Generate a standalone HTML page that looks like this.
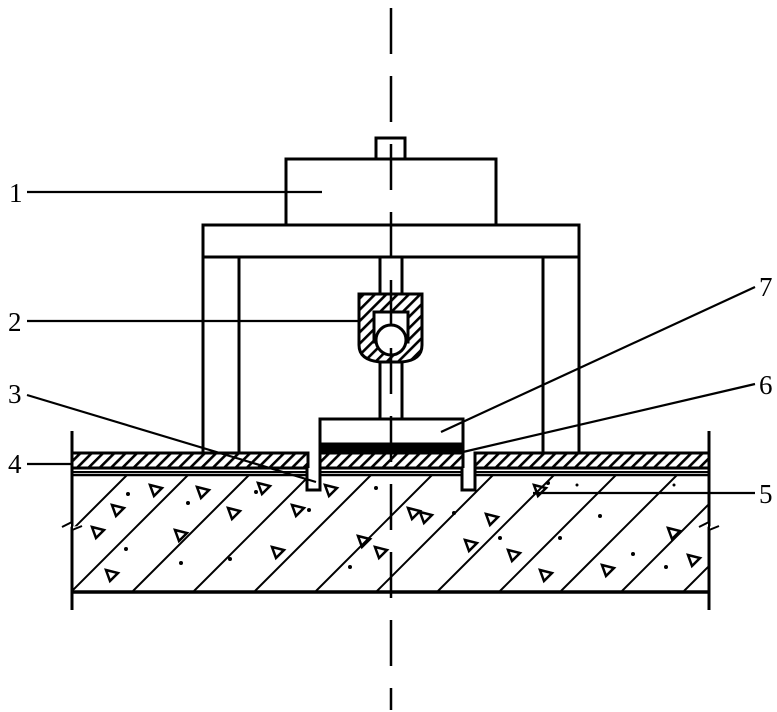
<!DOCTYPE html>
<html><head><meta charset="utf-8"><style>
html,body{margin:0;padding:0;background:#fff;}
svg{display:block}
text{font-family:"Liberation Serif",serif;font-size:27px;fill:#000}
</style></head><body>
<svg width="777" height="712" viewBox="0 0 777 712" xmlns="http://www.w3.org/2000/svg">
<defs>
<pattern id="h" patternUnits="userSpaceOnUse" width="8" height="8" patternTransform="rotate(45)">
<rect width="8" height="8" fill="#fff"/><rect x="0" y="0" width="2.6" height="8" fill="#000"/>
</pattern>
<clipPath id="cc"><rect x="72" y="475" width="637" height="116"/></clipPath>
</defs>
<g stroke="#000" fill="none" stroke-width="3">
<rect x="376" y="138" width="29" height="21" fill="#fff"/>
<rect x="286" y="159" width="210" height="66" fill="#fff"/>
<rect x="203" y="225" width="376" height="32" fill="#fff"/>
<line x1="203" y1="257" x2="203" y2="453"/><line x1="239" y1="257" x2="239" y2="453"/>
<line x1="543" y1="257" x2="543" y2="453"/><line x1="579" y1="257" x2="579" y2="453"/>
<line x1="380" y1="257" x2="380" y2="294"/><line x1="402" y1="257" x2="402" y2="294"/>
<line x1="380" y1="358" x2="380" y2="419"/><line x1="402" y1="358" x2="402" y2="419"/>
<path d="M359,294 H422 V345 Q422,360 402,362 H380 Q359,360 359,345 Z" fill="url(#h)"/>
<rect x="374" y="312" width="34" height="30" fill="#fff"/>
<circle cx="391" cy="340" r="15" fill="#fff"/>
<rect x="320" y="419" width="143" height="25" fill="#fff"/>
<rect x="320" y="444" width="143" height="9" fill="#000"/>
<rect x="72" y="453" width="236" height="15" fill="url(#h)"/>
<rect x="320" y="453" width="143" height="15" fill="url(#h)"/>
<rect x="475" y="453" width="234" height="15" fill="url(#h)"/>
<line x1="72" y1="472" x2="709" y2="472" stroke-width="2"/>
<g clip-path="url(#cc)" stroke-width="2">
<line x1="11" y1="591" x2="127" y2="475"/><line x1="72" y1="591" x2="188" y2="475"/>
<line x1="133" y1="591" x2="249" y2="475"/><line x1="194" y1="591" x2="310" y2="475"/>
<line x1="255" y1="591" x2="371" y2="475"/><line x1="316" y1="591" x2="432" y2="475"/>
<line x1="377" y1="591" x2="493" y2="475"/><line x1="438" y1="591" x2="554" y2="475"/>
<line x1="500" y1="591" x2="616" y2="475"/><line x1="561" y1="591" x2="677" y2="475"/>
<line x1="622" y1="591" x2="738" y2="475"/><line x1="684" y1="591" x2="800" y2="475"/>
<line x1="-50" y1="591" x2="66" y2="475"/>
</g>
<line x1="72" y1="475" x2="709" y2="475" stroke-width="2.5"/>
<line x1="72" y1="592" x2="709" y2="592" stroke-width="3.5"/>
<path d="M307,468 V490 H320 V468" fill="#fff"/>
<path d="M462,468 V490 H475 V468" fill="#fff"/>
<line x1="72" y1="431" x2="72" y2="610"/><line x1="709" y1="431" x2="709" y2="610"/>
<path d="M62,527 L72,522 L72,530 L82,526" stroke-width="2" fill="#fff"/>
<path d="M699,527 L709,522 L709,530 L719,526" stroke-width="2" fill="#fff"/>
</g>
<g stroke="#000" stroke-width="2.5" fill="none">
<path d="M150,485 l12,3 -8,8z"/><path d="M197,487 l12,3 -8,8z"/><path d="M258,483 l12,3 -8,8z"/>
<path d="M112,505 l12,3 -8,8z"/><path d="M228,508 l12,3 -8,8z"/><path d="M292,505 l12,3 -8,8z"/>
<path d="M92,527 l12,3 -8,8z"/><path d="M175,530 l12,3 -8,8z"/><path d="M358,536 l12,3 -8,8z"/>
<path d="M106,570 l12,3 -8,8z"/><path d="M272,547 l12,3 -8,8z"/><path d="M325,485 l12,3 -8,8z"/>
<path d="M420,512 l12,3 -8,8z"/><path d="M486,514 l12,3 -8,8z"/><path d="M534,485 l12,3 -8,8z"/>
<path d="M465,540 l12,3 -8,8z"/><path d="M508,550 l12,3 -8,8z"/><path d="M540,570 l12,3 -8,8z"/>
<path d="M602,565 l12,3 -8,8z"/><path d="M668,528 l12,3 -8,8z"/><path d="M688,555 l12,3 -8,8z"/>
<path d="M408,508 l12,3 -8,8z"/><path d="M375,547 l12,3 -8,8z"/>
</g>
<g fill="#000">
<circle cx="128" cy="494" r="2"/><circle cx="188" cy="503" r="2"/><circle cx="256" cy="492" r="2"/>
<circle cx="309" cy="510" r="2"/><circle cx="126" cy="549" r="2"/><circle cx="181" cy="563" r="2"/>
<circle cx="230" cy="559" r="2"/><circle cx="350" cy="567" r="2"/><circle cx="376" cy="488" r="2"/>
<circle cx="454" cy="513" r="2"/><circle cx="500" cy="538" r="2"/><circle cx="548" cy="483" r="2"/>
<circle cx="560" cy="538" r="2"/><circle cx="600" cy="516" r="2"/><circle cx="633" cy="554" r="2"/>
<circle cx="666" cy="567" r="2"/><circle cx="577" cy="485" r="1.5"/><circle cx="674" cy="485" r="1.5"/>
</g>
<line x1="391" y1="8" x2="391" y2="710" stroke="#000" stroke-width="2.5" stroke-dasharray="46 22" />
<g stroke="#000" stroke-width="2.2">
<line x1="27" y1="192" x2="322" y2="192"/>
<line x1="27" y1="321" x2="360" y2="321"/>
<line x1="27" y1="395" x2="316" y2="482"/>
<line x1="27" y1="464" x2="72" y2="464"/>
<line x1="533" y1="493" x2="755" y2="493"/>
<line x1="463" y1="452" x2="755" y2="384"/>
<line x1="441" y1="432" x2="755" y2="287"/>
</g>
<text x="9" y="202">1</text><text x="8" y="331">2</text><text x="8" y="403">3</text><text x="8" y="473">4</text>
<text x="759" y="503">5</text><text x="759" y="394">6</text><text x="759" y="296">7</text>
</svg>
</body></html>
